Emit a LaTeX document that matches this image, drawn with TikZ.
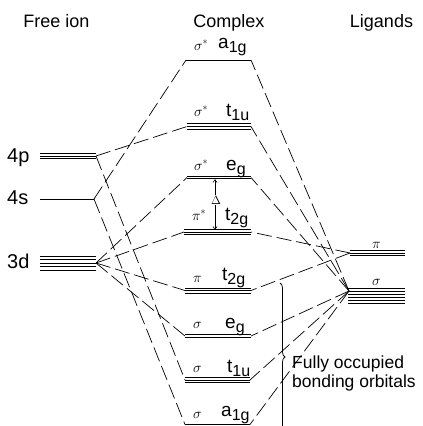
\documentclass[tikz,border=0pt]{standalone}
\usepackage{fontspec}
\setmainfont{Liberation Sans}
\usetikzlibrary{decorations.pathreplacing,arrows.meta}
\newcommand\mysub[1]{\raisebox{-4.5pt}{\fontsize{16}{16}\selectfont #1}}
\newcommand\mlev[3]{\foreach \o in {#3}{\draw[lvl] ([yshift=\o pt]#1) -- ([yshift=\o pt]#2);}}
\begin{document}
\begin{tikzpicture}[x=1pt,y=-1pt,
  lvl/.style={line width=0.75pt},
  conn/.style={line width=0.7pt, dash pattern=on 15pt off 5pt},
  big/.style={font=\fontsize{19}{21}\selectfont, inner sep=0pt, anchor=base west},
  num/.style={font=\fontsize{20}{22}\selectfont, inner sep=0pt, anchor=base west},
  grk/.style={font=\fontsize{14}{15}\selectfont, inner sep=0pt, anchor=base west},
  hdr/.style={font=\fontsize{18}{20}\selectfont, inner sep=0pt, anchor=base},
  txt/.style={font=\fontsize{17.5}{20}\selectfont, inner sep=0pt, anchor=base west}]
\useasboundingbox (0,0) rectangle (423,426);

% headers
\node[hdr] (hfree) at (56.5,27) {Free ion};
\node[hdr] (hcomp) at (229,27) {Complex};
\node[hdr] (hlig) at (381.5,27) {Ligands};

% free ion levels
\coordinate (p4L) at (40,156); \coordinate (p4R) at (96,156);
\coordinate (s4L) at (40,199); \coordinate (s4R) at (94,199);
\coordinate (d3L) at (40,263); \coordinate (d3R) at (96,263);
\mlev{p4L}{p4R}{-2.5,0,2.5}
\draw[lvl] (s4L) -- (s4R);
\mlev{d3L}{d3R}{-7,-3.5,0,3.5,7}
\node[num] (l4p) at (7,162) {4p};
\node[num] (l4s) at (7,204) {4s};
\node[num] (l3d) at (7,268) {3d};

% complex levels
\coordinate (aSL) at (186,60);    \coordinate (aSR) at (251,60);
\coordinate (tSL) at (187,126.5); \coordinate (tSR) at (251,126.5);
\coordinate (eSL) at (187,177.5); \coordinate (eSR) at (251,177.5);
\coordinate (tPL) at (184,232);   \coordinate (tPR) at (251,232);
\coordinate (tBL) at (185,290.5); \coordinate (tBR) at (251,290.5);
\coordinate (eBL) at (185,336);   \coordinate (eBR) at (251,336);
\coordinate (uBL) at (185,380);   \coordinate (uBR) at (250,380);
\coordinate (aBL) at (185,424.5); \coordinate (aBR) at (250,424.5);
\draw[lvl] (aSL) -- (aSR);
\mlev{tSL}{tSR}{-3,0,3}
\mlev{eSL}{eSR}{-1.3,1.3}
\mlev{tPL}{tPR}{-2.5,0,2.5}
\mlev{tBL}{tBR}{-2.5,0,2.5}
\mlev{eBL}{eBR}{-1.3,1.3}
\mlev{uBL}{uBR}{-2.5,0,2.5}
\draw[lvl] (aBL) -- (aBR);

% complex labels
\node[grk] (g1) at (194,50) {$\sigma^*$};
\node[big] (n1) at (218,48) {a\mysub{1g}};
\node[grk] (g2) at (194,116) {$\sigma^*$};
\node[big] (n2) at (226,116) {t\mysub{1u}};
\node[grk] (g3) at (194,170) {$\sigma^*$};
\node[big] (n3) at (226,170) {e\mysub{g}};
\node[grk] (g4) at (192,220) {$\pi^*$};
\node[big] (n4) at (225,220) {t\mysub{2g}};
\node[grk] (g5) at (193,282) {$\pi$};
\node[big] (n5) at (222,280) {t\mysub{2g}};
\node[grk] (g6) at (193,328) {$\sigma$};
\node[big] (n6) at (225,328) {e\mysub{g}};
\node[grk] (g7) at (193,372) {$\sigma$};
\node[big] (n7) at (227,372) {t\mysub{1u}};
\node[grk] (g8) at (193,418) {$\sigma$};
\node[big] (n8) at (221,416) {a\mysub{1g}};

% Delta
\coordinate (dT) at (215,179);
\coordinate (dB) at (215,230);
\node[font=\fontsize{12}{12}\selectfont, inner sep=1pt] (dl) at (216,200) {$\Delta$};
\draw[line width=0.6pt, -{Straight Barb[length=3pt,width=4pt]}] (dl.north -| dT) -- (dT);
\draw[line width=0.6pt, -{Straight Barb[length=3pt,width=4pt]}] (dl.south -| dB) -- (dB);

% ligand levels
\coordinate (LpL) at (350,253);   \coordinate (LpR) at (405,253);
\coordinate (LsL) at (348,295.5); \coordinate (LsR) at (405,295.5);
\coordinate (LsC) at (349,291);
\mlev{LpL}{LpR}{-2.5,0,2.5}
\mlev{LsL}{LsR}{-7.5,-4.5,-1.5,1.5,4.5,7.5}
\node[grk] (gp) at (372,248) {$\pi$};
\node[grk] (gs) at (372,285) {$\sigma$};

% connectors: metal side
\draw[conn] (s4R) -- (aSL);
\draw[conn] (s4R) -- (aBL);
\draw[conn] (p4R) -- (tSL);
\draw[conn] (p4R) -- (uBL);
\draw[conn] (d3R) -- (eSL);
\draw[conn] (d3R) -- (tPL);
\draw[conn] (d3R) -- (tBL);
\draw[conn] (d3R) -- (eBL);

% connectors: ligand side
\draw[conn] (LpL) -- (tPR);
\draw[conn] (LpL) -- (tBR);
\draw[conn] (LsC) -- (aSR);
\draw[conn] (LsC) -- (tSR);
\draw[conn] (LsC) -- (eSR);
\draw[conn] (LsC) -- (eBR);
\draw[conn] (LsC) -- (uBR);
\draw[conn] (LsC) -- (aBR);

% brace
\coordinate (brT) at (280,283);
\coordinate (brB) at (280,431);
\draw[line width=0.75pt, decorate, decoration={brace, amplitude=5pt, aspect=0.5}] (brT) -- (brB);
\node[txt] (fo) at (292,368) {Fully occupied};
\node[txt] (bo) at (292,387) {bonding orbitals};
\end{tikzpicture}
\end{document}
